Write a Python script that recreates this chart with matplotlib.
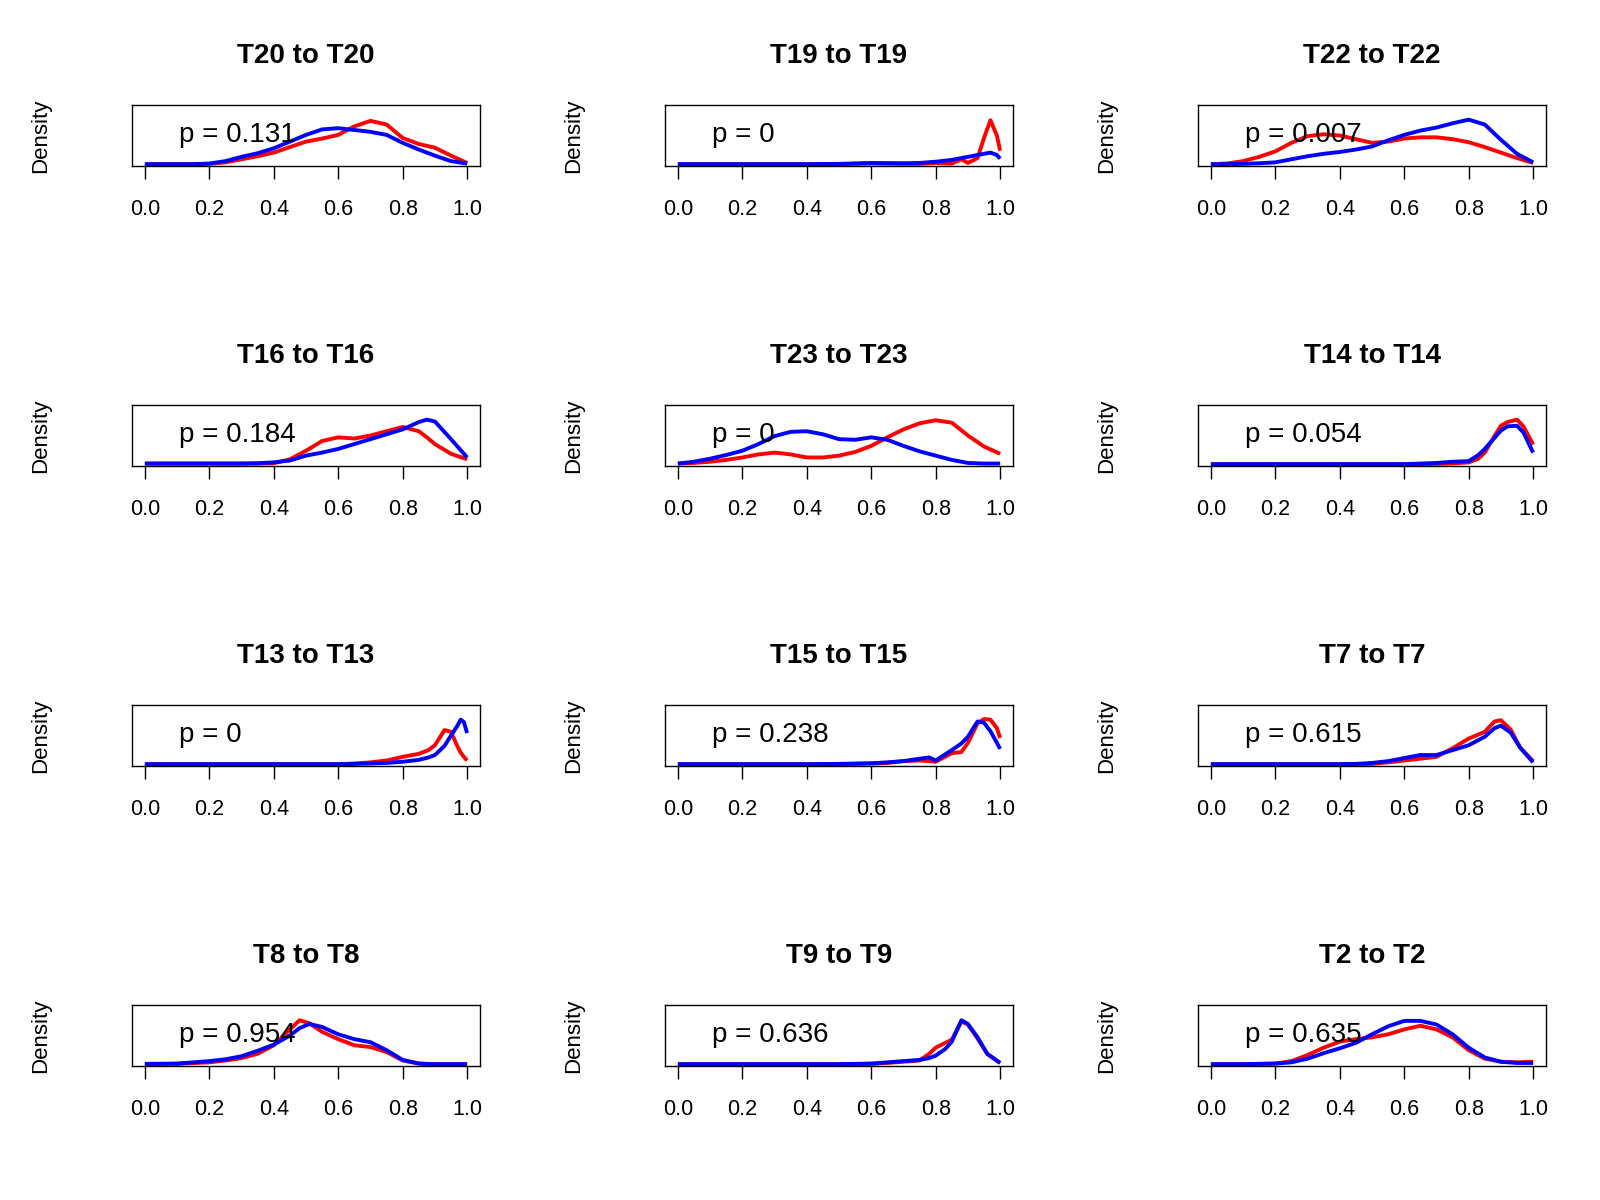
import matplotlib
matplotlib.use("Agg")
import matplotlib.pyplot as plt

plt.rcParams['font.family'] = ['Liberation Sans', 'DejaVu Sans']

# ---------------- data (density heights as fraction of panel height) ----------------
GRID = [0.0, 0.05, 0.1, 0.15, 0.2, 0.25, 0.3, 0.35, 0.4, 0.45, 0.5,
        0.55, 0.6, 0.65, 0.7, 0.75, 0.8, 0.85, 0.9, 0.95, 1.0]

titles = ["T20 to T20", "T19 to T19", "T22 to T22",
          "T16 to T16", "T23 to T23", "T14 to T14",
          "T13 to T13", "T15 to T15", "T7 to T7",
          "T8 to T8", "T9 to T9", "T2 to T2"]
p_labels = ["p = 0.131", "p = 0", "p = 0.007",
            "p = 0.184", "p = 0", "p = 0.054",
            "p = 0", "p = 0.238", "p = 0.615",
            "p = 0.954", "p = 0.636", "p = 0.635"]

t20_x = GRID
t20_red = [.03, .03, .03, .03, .035, .06, .11, .16, .22, .31, .40,
           .45, .51, .65, .74, .68, .46, .36, .30, .17, .05]
t20_blue = [.03, .03, .03, .03, .04, .08, .15, .21, .29, .40, .51,
            .60, .62, .59, .56, .51, .38, .27, .17, .08, .04]

t19_x = [0, .1, .2, .3, .4, .5, .6, .7, .75, .8, .85, .88, .9, .93, .95, .97, .99, 1.0]
t19_red = [.03, .03, .03, .03, .03, .03, .04, .035, .035, .05, .04, .11, .05, .13, .46, .75, .50, .25]
t19_blue = [.03, .03, .03, .03, .03, .035, .05, .045, .05, .07, .10, .13, .15, .18, .20, .22, .18, .12]

t22_x = GRID
t22_red = [.03, .04, .08, .15, .24, .38, .49, .52, .50, .44, .38,
           .40, .45, .47, .47, .44, .39, .31, .22, .13, .05]
t22_blue = [.03, .03, .035, .045, .06, .11, .16, .20, .23, .27, .32,
            .42, .51, .58, .63, .70, .76, .68, .43, .20, .06]

t16_x = [0, .1, .2, .3, .35, .4, .45, .5, .55, .6, .65, .7, .75, .8, .85, .875, .9, .95, 1.0]
t16_red = [.04, .04, .04, .04, .04, .045, .11, .25, .41, .47, .45, .50, .57, .64, .57, .47, .36, .20, .11]
t16_blue = [.04, .04, .04, .04, .045, .06, .09, .17, .22, .28, .36, .44, .52, .60, .72, .76, .73, .44, .14]

t23_x = GRID
t23_red = [.04, .05, .07, .10, .14, .19, .22, .19, .14, .14, .17,
           .23, .33, .47, .60, .70, .75, .71, .50, .32, .20]
t23_blue = [.04, .07, .12, .18, .25, .36, .49, .56, .57, .52, .44,
            .43, .47, .43, .33, .24, .17, .10, .05, .04, .04]

t14_x = [0, .1, .2, .3, .4, .5, .6, .65, .7, .75, .8, .83, .85, .88, .9, .92, .95, .97, 1.0]
t14_red = [.03, .03, .03, .03, .03, .03, .03, .03, .035, .04, .06, .12, .22, .49, .66, .72, .76, .65, .35]
t14_blue = [.03, .03, .03, .03, .03, .03, .03, .04, .05, .07, .08, .18, .28, .46, .58, .65, .66, .55, .22]

t13_x = [0, .1, .2, .3, .4, .5, .6, .65, .7, .75, .8, .85, .88, .9, .93, .95, .97, .98, .99, 1.0]
t13_red = [.03, .03, .03, .03, .03, .03, .03, .04, .06, .09, .15, .20, .26, .34, .59, .56, .32, .22, .15, .09]
t13_blue = [.03, .03, .03, .03, .03, .03, .03, .035, .04, .05, .07, .10, .14, .18, .33, .50, .66, .76, .72, .54]

t15_x = [0, .1, .2, .3, .4, .5, .6, .65, .7, .75, .78, .8, .85, .88, .9, .93, .95, .97, .99, 1.0]
t15_red = [.03, .03, .03, .03, .03, .03, .04, .05, .08, .09, .08, .07, .21, .23, .38, .70, .77, .76, .62, .46]
t15_blue = [.03, .03, .03, .03, .03, .035, .045, .06, .08, .12, .14, .09, .26, .37, .48, .73, .71, .57, .38, .28]

t7_x = [0, .1, .2, .3, .4, .45, .5, .55, .6, .65, .7, .75, .8, .85, .88, .9, .93, .96, 1.0]
t7_red = [.03, .03, .03, .03, .03, .03, .035, .06, .09, .12, .15, .29, .45, .56, .73, .75, .60, .30, .08]
t7_blue = [.03, .03, .03, .03, .03, .035, .05, .08, .13, .18, .18, .26, .34, .48, .62, .66, .55, .30, .06]

t8_x = [0, .1, .2, .25, .3, .35, .4, .45, .48, .51, .55, .6, .65, .7, .75, .8, .85, .9, 1.0]
t8_red = [.03, .035, .06, .09, .13, .20, .34, .60, .75, .70, .56, .44, .34, .31, .23, .09, .04, .03, .03]
t8_blue = [.035, .04, .08, .11, .16, .25, .35, .50, .62, .69, .64, .52, .44, .39, .26, .10, .04, .03, .03]

t9_x = [0, .1, .2, .3, .4, .5, .6, .65, .7, .75, .78, .8, .83, .85, .88, .9, .93, .96, 1.0]
t9_red = [.03, .03, .03, .03, .03, .03, .035, .05, .07, .09, .20, .30, .38, .43, .73, .68, .45, .20, .05]
t9_blue = [.03, .03, .03, .03, .03, .03, .04, .06, .08, .10, .13, .17, .28, .40, .75, .69, .47, .20, .05]

t2_x = GRID
t2_red = [.03, .03, .03, .035, .04, .08, .18, .30, .40, .44, .47,
          .52, .60, .66, .60, .47, .26, .12, .07, .06, .07]
t2_blue = [.03, .03, .03, .035, .04, .06, .12, .21, .29, .38, .52,
           .65, .74, .74, .68, .52, .30, .14, .07, .05, .05]

xs = [t20_x, t19_x, t22_x, t16_x, t23_x, t14_x, t13_x, t15_x, t7_x, t8_x, t9_x, t2_x]
reds = [t20_red, t19_red, t22_red, t16_red, t23_red, t14_red,
        t13_red, t15_red, t7_red, t8_red, t9_red, t2_red]
blues = [t20_blue, t19_blue, t22_blue, t16_blue, t23_blue, t14_blue,
         t13_blue, t15_blue, t7_blue, t8_blue, t9_blue, t2_blue]

tick_vals = [0.0, 0.2, 0.4, 0.6, 0.8, 1.0]
tick_labels = ["0.0", "0.2", "0.4", "0.6", "0.8", "1.0"]

# ---------------- layout ----------------
W, H = 1600, 1200
fig = plt.figure(figsize=(16, 12), dpi=100)
col_left = [132, 665, 1198]
row_top = [105, 405, 705, 1005]
aw, ah = 348, 61

for i in range(12):
    r, c = divmod(i, 3)
    left = col_left[c]
    top = row_top[r]
    ax = fig.add_axes([left / W, 1 - (top + ah) / H, aw / W, ah / H])
    ax.plot(xs[i], reds[i], color="#FF0000", lw=2.8, solid_joinstyle="round",
            solid_capstyle="butt")
    ax.plot(xs[i], blues[i], color="#0000FF", lw=2.8, solid_joinstyle="round",
            solid_capstyle="butt")
    ax.set_xlim(-0.04, 1.04)
    ax.set_ylim(0, 1)
    ax.set_yticks([])
    ax.set_xticks(tick_vals)
    ax.set_xticklabels(tick_labels)
    ax.tick_params(axis="x", direction="out", length=9.5, width=1.0,
                   pad=14.5, labelsize=15.5, colors="black")
    for s in ax.spines.values():
        s.set_linewidth(1.0)
        s.set_color("black")
    ax.text(0.106, 0.40, p_labels[i], fontsize=20, ha="left", va="baseline")
    fig.text((left + aw / 2) / W, 1 - (top - 49) / H, titles[i], fontsize=20,
             fontweight="bold", ha="center", va="center")
    fig.text((left - 91) / W, 1 - (top + ah / 2) / H, "Density", fontsize=16,
             rotation=90, ha="center", va="center")

fig.savefig("out.png", dpi=100)
